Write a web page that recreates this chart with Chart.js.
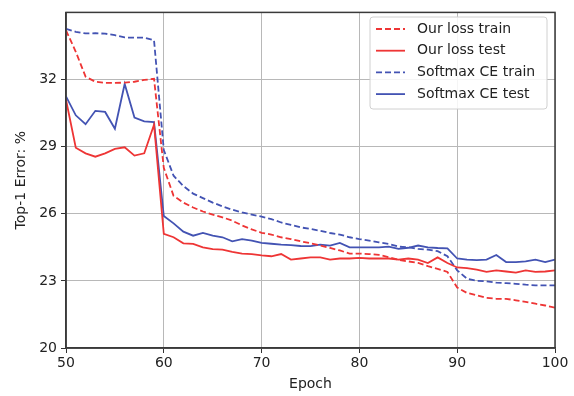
<!DOCTYPE html>
<html>
<head>
<meta charset="utf-8">
<script src="https://cdn.jsdelivr.net/npm/chart.js@4.4.1/dist/chart.umd.min.js"></script>
<style>
  html, body { margin: 0; padding: 0; background: #ffffff; }
  #wrap { width: 574px; height: 396px; position: relative; }
</style>
</head>
<body>
<div id="wrap"><canvas id="c" width="574" height="396"></canvas></div>
<script>
const epochs = [50,51,52,53,54,55,56,57,58,59,60,61,62,63,64,65,66,67,68,69,70,71,72,73,74,75,76,77,78,79,80,81,82,83,84,85,86,87,88,89,90,91,92,93,94,95,96,97,98,99,100];

const ourLossTrain = [34.2,33.24,32.13,31.9,31.85,31.85,31.86,31.9,31.98,32.03,
  28.05,26.8,26.5,26.28,26.1,25.96,25.84,25.69,25.48,25.3,
  25.15,25.07,24.95,24.87,24.77,24.68,24.58,24.47,24.36,24.22,
  24.22,24.2,24.16,24.06,23.94,23.87,23.8,23.66,23.54,23.4,
  22.7,22.46,22.36,22.24,22.2,22.2,22.13,22.06,21.98,21.9,21.8];

const ourLossTest = [31.1,28.95,28.7,28.55,28.7,28.9,28.97,28.6,28.7,29.98,
  25.1,24.95,24.68,24.65,24.5,24.42,24.4,24.3,24.22,24.2,
  24.14,24.1,24.2,23.95,24.0,24.05,24.05,23.95,24.0,24.0,
  24.03,24.0,24.0,24.0,23.95,24.0,23.95,23.8,24.05,23.8,
  23.6,23.57,23.5,23.4,23.47,23.42,23.37,23.47,23.4,23.42,23.47];

const softmaxTrain = [34.27,34.13,34.06,34.07,34.05,33.98,33.88,33.87,33.87,33.76,
  28.85,27.7,27.24,26.9,26.7,26.5,26.33,26.18,26.06,25.96,
  25.87,25.76,25.61,25.5,25.39,25.32,25.24,25.14,25.07,24.95,
  24.87,24.8,24.72,24.65,24.53,24.5,24.43,24.4,24.33,24.1,
  23.47,23.1,23.0,22.98,22.92,22.9,22.87,22.83,22.8,22.8,22.8];

const softmaxTest = [31.25,30.4,30.0,30.6,30.55,29.8,31.8,30.3,30.13,30.1,
  25.9,25.57,25.2,25.02,25.14,25.02,24.95,24.77,24.87,24.8,
  24.7,24.66,24.62,24.6,24.56,24.55,24.62,24.58,24.7,24.5,
  24.5,24.5,24.5,24.53,24.43,24.48,24.58,24.5,24.47,24.45,
  24.0,23.95,23.93,23.95,24.16,23.84,23.84,23.87,23.95,23.84,23.95];

const xTicks = [50,60,70,80,90,100];
const yTicks = [20,23,26,29,32];
const seriesLabels = ['Our loss train','Our loss test','Softmax CE train','Softmax CE test'];

const RED = '#ee3535';
const BLUE = '#4353b3';
const FONT = "'DejaVu Sans', sans-serif";

function pts(vals) { return epochs.map((e, i) => ({x: e, y: vals[i]})); }

const framePlugin = {
  id: 'frame',
  afterDatasetsDraw(chart) {
    const {ctx, chartArea: a} = chart;
    ctx.save();
    ctx.strokeStyle = '#3a3a3a';
    ctx.lineWidth = 1.5;
    ctx.strokeRect(a.left, a.top, a.right - a.left, a.bottom - a.top);
    ctx.restore();
  }
};

const legendPlugin = {
  id: 'innerLegend',
  afterDraw(chart) {
    const {ctx, chartArea: a} = chart;
    const bx = 370, by = 17, bw = 177, bh = 92;
    ctx.save();
    ctx.beginPath();
    const r = 3;
    ctx.moveTo(bx + r, by);
    ctx.arcTo(bx + bw, by, bx + bw, by + bh, r);
    ctx.arcTo(bx + bw, by + bh, bx, by + bh, r);
    ctx.arcTo(bx, by + bh, bx, by, r);
    ctx.arcTo(bx, by, bx + bw, by, r);
    ctx.closePath();
    ctx.fillStyle = 'rgba(255,255,255,0.85)';
    ctx.fill();
    ctx.strokeStyle = '#d0d0d0';
    ctx.lineWidth = 1;
    ctx.stroke();
    chart.data.datasets.forEach((ds, i) => {
      const y = 29 + i * 21.7;
      ctx.beginPath();
      ctx.setLineDash(ds.borderDash || []);
      ctx.strokeStyle = ds.borderColor;
      ctx.lineWidth = ds.borderWidth;
      ctx.moveTo(376, y);
      ctx.lineTo(405, y);
      ctx.stroke();
      ctx.setLineDash([]);
      ctx.fillStyle = '#222';
      ctx.font = '14px ' + FONT;
      ctx.textBaseline = 'middle';
      ctx.textAlign = 'left';
      ctx.fillText(ds.label, 417, y);
    });
    ctx.restore();
  }
};

new Chart(document.getElementById('c'), {
  type: 'line',
  data: {
    datasets: [
      {label: seriesLabels[0], data: pts(ourLossTrain), borderColor: RED, borderDash: [6, 3], borderWidth: 1.8},
      {label: seriesLabels[1], data: pts(ourLossTest), borderColor: RED, borderWidth: 1.8},
      {label: seriesLabels[2], data: pts(softmaxTrain), borderColor: BLUE, borderDash: [6, 3], borderWidth: 1.8},
      {label: seriesLabels[3], data: pts(softmaxTest), borderColor: BLUE, borderWidth: 1.8}
    ]
  },
  options: {
    responsive: false,
    animation: false,
    devicePixelRatio: 1,
    layout: {padding: {left: 0, right: 19, top: 9, bottom: 0}},
    elements: {point: {radius: 0}, line: {tension: 0, fill: false}},
    plugins: {legend: {display: false}, tooltip: {enabled: false}},
    scales: {
      x: {
        type: 'linear', min: 50, max: 100,
        afterBuildTicks(s) { s.ticks = xTicks.map(v => ({value: v})); },
        afterFit(s) { s.height = 48; },
        grid: {color: '#b8b8b8', lineWidth: 1, tickLength: 5, tickColor: '#333', drawTicks: true},
        border: {color: '#3a3a3a', width: 1.5},
        ticks: {font: {family: FONT, size: 14}, color: '#222', padding: 2, maxRotation: 0, autoSkip: false},
        title: {display: true, text: 'Epoch', font: {family: FONT, size: 14}, color: '#222', padding: {top: 0, bottom: 3}}
      },
      y: {
        type: 'linear', min: 20, max: 35,
        afterBuildTicks(s) { s.ticks = yTicks.map(v => ({value: v})); },
        afterFit(s) { s.width = 66; },
        grid: {color: '#b8b8b8', lineWidth: 1, tickLength: 5, tickColor: '#333', drawTicks: true},
        border: {color: '#3a3a3a', width: 1.5},
        ticks: {font: {family: FONT, size: 14}, color: '#222', padding: 4, autoSkip: false},
        title: {display: true, text: 'Top-1 Error: %', font: {family: FONT, size: 14}, color: '#222', padding: {top: 13, bottom: 0}}
      }
    }
  },
  plugins: [framePlugin, legendPlugin]
});
</script>
</body>
</html>
